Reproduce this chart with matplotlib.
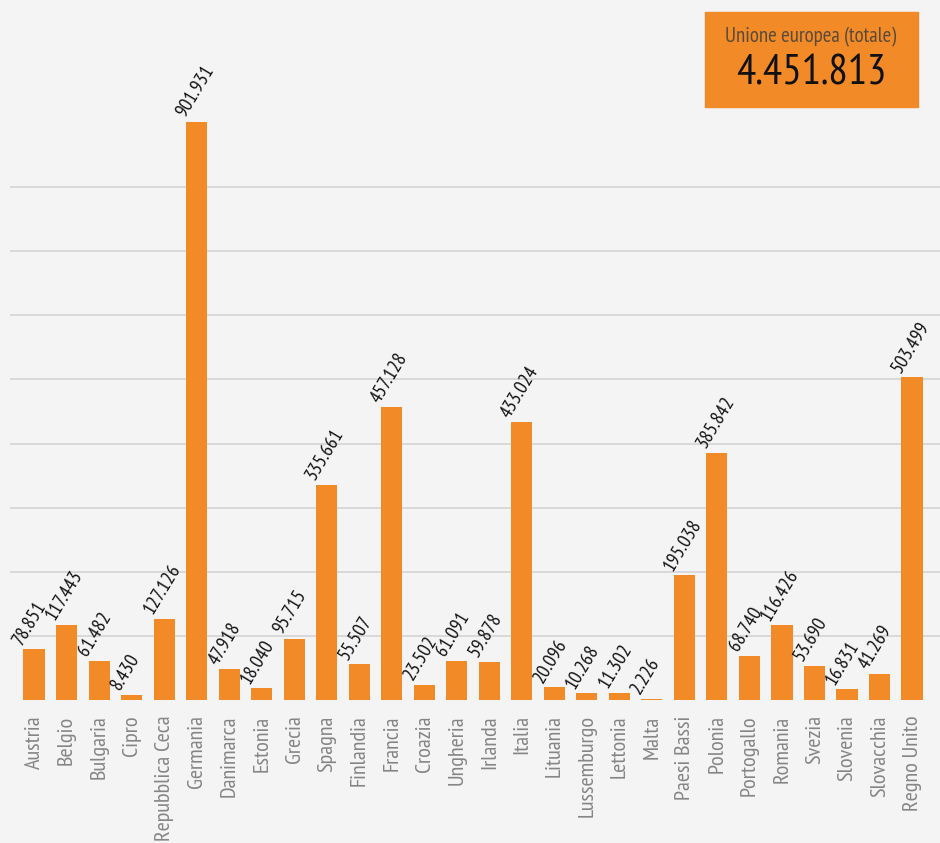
import matplotlib.pyplot as plt
import matplotlib.font_manager as fm
from matplotlib.patches import Rectangle

paesi = ['Austria', 'Belgio', 'Bulgaria', 'Cipro', 'Repubblica Ceca', 'Germania',
         'Danimarca', 'Estonia', 'Grecia', 'Spagna', 'Finlandia', 'Francia',
         'Croazia', 'Ungheria', 'Irlanda', 'Italia', 'Lituania', 'Lussemburgo',
         'Lettonia', 'Malta', 'Paesi Bassi', 'Polonia', 'Portogallo', 'Romania',
         'Svezia', 'Slovenia', 'Slovacchia', 'Regno Unito']
valori = [78851, 117443, 61482, 8430, 127126, 901931, 47918, 18040, 95715,
          335661, 55507, 457128, 23502, 61091, 59878, 433024, 20096, 10268,
          11302, 2226, 195038, 385842, 68740, 116426, 53690, 16831, 41269, 503499]
totale_label = 'Unione europea (totale)'
totale = 4451813

# cerca un font condensato (stile Myriad Condensed)
names = {f.name for f in fm.fontManager.ttflist}
candidati = ['PT Sans Narrow', 'Fira Sans Condensed', 'Roboto Condensed',
             'Open Sans Condensed', 'Liberation Sans Narrow', 'Encode Sans Condensed',
             'Archivo Narrow', 'Asap Condensed', 'IBM Plex Sans Condensed',
             'Barlow Condensed', 'Ubuntu Condensed', 'Pragati Narrow']
font = next((c for c in candidati if c in names), None)
stretch = 'normal'
if font is None:
    font = 'DejaVu Sans'
    stretch = 'condensed'
plt.rcParams['font.family'] = [font, 'DejaVu Sans']
plt.rcParams['font.stretch'] = stretch

arancio = '#f28b27'
sfondo = '#f4f4f4'

def fmt(v):
    return f'{v:,}'.replace(',', '.')

fig = plt.figure(figsize=(9.4, 8.43), dpi=100, facecolor=sfondo)
ax = fig.add_axes([10/940, 143/843, 930/940, 700/843])
ax.set_facecolor(sfondo)

x = list(range(len(paesi)))
ax.bar(x, valori, width=0.65, color=arancio, zorder=3)

ax.set_xlim(-0.74, 27.86)
ax.set_ylim(0, 1092000)
ax.set_yticks(range(100000, 900000, 100000))
ax.yaxis.grid(True, color='#d2d2d2', linewidth=1.1, zorder=0)
ax.tick_params(axis='y', length=0, labelleft=False)
ax.tick_params(axis='x', length=0, pad=11)
for s in ax.spines.values():
    s.set_visible(False)

ax.set_xticks(x)
ax.set_xticklabels(paesi, rotation=90, fontsize=16, color='#858585')

for xi, v in zip(x, valori):
    ax.annotate(fmt(v), (xi, v), xytext=(-6, 1), textcoords='offset points',
                rotation=59, rotation_mode='anchor', ha='left', va='bottom',
                fontsize=14, color='#111111')

# riquadro totale
fig.patches.append(Rectangle((705/940, 1 - 107/843), 213/940, 95/843,
                             transform=fig.transFigure, color=arancio, zorder=5))
fig.text(811/940, 1 - 37/843, totale_label, ha='center', va='center',
         fontsize=15, color='#5a4a3a', zorder=6)
fig.text(811/940, 1 - 74/843, fmt(totale), ha='center', va='center',
         fontsize=31, color='#111111', zorder=6)

fig.savefig('out.png', dpi=100, facecolor=sfondo)
